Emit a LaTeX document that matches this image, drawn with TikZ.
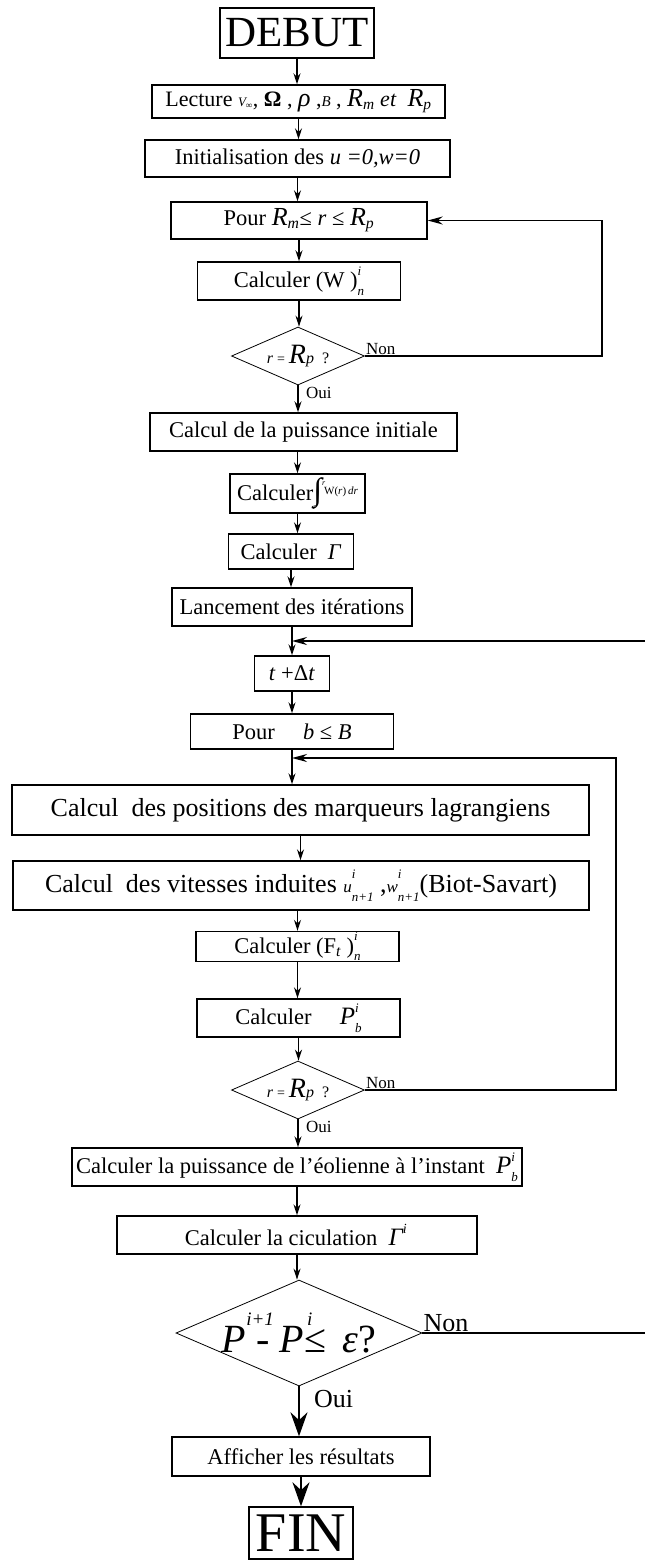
\documentclass[tikz,border=0pt]{standalone}
\usepackage{fontspec}
\setmainfont{Liberation Serif}
\usetikzlibrary{shapes.geometric,arrows.meta}
\newcommand{\fs}[1]{\fontsize{#1}{#1}\selectfont}
\newcommand{\supsub}[2]{\rlap{\raisebox{0.55em}{\fs{13}\itshape #1}}\raisebox{-0.35em}{\fs{13}\itshape #2}}
\newcommand{\intrr}{{\fs{32}∫}\rlap{\raisebox{15pt}{\fs{8}\itshape r}}\rlap{\kern-9pt\raisebox{-9pt}{\fs{8}\itshape r}}\kern2pt\raisebox{6pt}{\fs{11}W(\textit{r})\,\textit{dr}}}
\tikzset{
  procbox/.style 2 args={
    rectangle, draw, line width=1.4pt,
    minimum width=#1, minimum height=#2,
    inner sep=0pt, align=center, font=\fs{22.5}
  },
  termbox/.style 2 args={
    rectangle, draw, line width=1.4pt,
    minimum width=#1, minimum height=#2,
    inner sep=0pt
  },
  testbox/.style 2 args={
    diamond, draw, line width=0.8pt,
    minimum width=#1, minimum height=#2,
    inner sep=0pt, aspect=2.3, font=\fs{16}
  },
  lbl/.style={inner sep=1pt, font=\fs{17}},
  myarr/.style={-{Stealth[length=11pt,width=7pt]}, line width=1.5pt},
  looparr/.style={-{Stealth[length=15pt,width=8pt]}, line width=1.5pt},
  bigarr/.style={-{Stealth[length=24pt,width=17pt]}, line width=1.8pt},
  myline/.style={line width=1.5pt},
}
\begin{document}
\begin{tikzpicture}[x=1pt,y=-1pt]
  \useasboundingbox (0,0) rectangle (645,1561);

  \node[termbox={154pt}{50pt}, font=\fs{43}] (debut) at (297,33) {DEBUT};
  \node[procbox={293pt}{33pt}, font=\fs{22}] (lect) at (298.5,101.5)
    {Lecture {\fs{13}\itshape V\textsubscript{∞}}, \textbf{Ω} , {\fs{26}\itshape ρ} ,{\fs{15}\itshape B} , {\fs{26}\itshape R}\textsubscript{\itshape m} \textit{et} \ {\fs{26}\itshape R}\textsubscript{\itshape p}};
  \node[procbox={305pt}{37pt}] (init) at (297.5,158.5) {Initialisation des \textit{u =0,w=0}};
  \node[procbox={256pt}{37pt}] (pour1) at (299,220.5)
    {Pour {\fs{26}\itshape R}\textsubscript{\itshape m}≤ \textit{r} ≤ {\fs{26}\itshape R}\textsubscript{\itshape p}};
  \node[procbox={203pt}{38pt}] (calw) at (299,281) {Calculer (W )\supsub{i}{n}};
  \node[testbox={133pt}{58pt}] (test1) at (298,356)
    {\textit{r} {\fs{14}=} {\fs{28}\itshape R}{\fs{16}\itshape p} \ ?};

  \node[procbox={307pt}{38pt}] (pinit) at (303.5,432) {Calcul de la puissance initiale};
  \node[procbox={135pt}{39pt}] (integ) at (297.5,493.5) {Calculer\intrr};
  \node[procbox={125pt}{35pt}] (gam) at (291,551.5) {Calculer \ \textit{Γ}};
  \node[procbox={240pt}{38pt}] (lanc) at (292,607) {Lancement des itérations};
  \node[procbox={75pt}{35pt}] (tdt) at (292,673.5) {\textit{t} +Δ\textit{t}};
  \node[procbox={203pt}{35pt}] (pourb) at (292,731.5) {Pour \quad \textit{b} ≤ \textit{B}};

  \node[procbox={577pt}{50pt}, font=\fs{26}] (posi) at (300.5,810)
    {Calcul \ des positions des marqueurs lagrangiens};
  \node[procbox={576pt}{49pt}, font=\fs{26}] (vit) at (301,885.5)
    {Calcul \ des vitesses induites {\fs{17}\itshape u}\supsub{i}{n+1} ,{\fs{17}\itshape w}\supsub{i}{n+1}(Biot-Savart)};
  \node[procbox={203pt}{30pt}] (calf) at (297.5,946.5) {Calculer (F\textsubscript{\itshape t} )\supsub{i}{n}};
  \node[procbox={203pt}{38pt}] (calp) at (298.5,1018) {Calculer \quad {\fs{25}\itshape P}\supsub{i}{b}};
  \node[testbox={133pt}{58pt}] (test2) at (298,1090)
    {\textit{r} {\fs{14}=} {\fs{28}\itshape R}{\fs{16}\itshape p} \ ?};

  \node[procbox={450pt}{38pt}] (eol) at (297,1167)
    {Calculer la puissance de l’éolienne à l’instant \ {\fs{25}\itshape P}\supsub{i}{b}};
  \node[procbox={360pt}{38pt}] (circ) at (297,1235)
    {Calculer la ciculation \ {\fs{25}\itshape Γ}\rlap{\raisebox{0.55em}{\fs{14}\itshape i}}\phantom{i}};
  \node[testbox={246pt}{106pt},
        label={[font=\fs{40}]center:{\textit{P}\rlap{\raisebox{27pt}{\fs{19}\itshape i+1}}\ - \textit{P}\rlap{\kern3pt\raisebox{27pt}{\fs{19}\itshape i}}≤ \,\textit{ε}?}}]
        (test3) at (299,1333) {};
  \node[procbox={258pt}{39pt}] (aff) at (301,1456.5) {Afficher les résultats};
  \node[termbox={104pt}{52pt}, font=\fs{56}] (fin) at (301,1533) {FIN};

  \node[lbl, anchor=south west] (non1) at (test1.east) {Non};
  \node[lbl, anchor=north west, xshift=7pt, yshift=-1pt] (oui1) at (test1.south) {Oui};
  \node[lbl, anchor=south west] (non2) at (test2.east) {Non};
  \node[lbl, anchor=north west, xshift=7pt, yshift=-1pt] (oui2) at (test2.south) {Oui};
  \node[lbl, anchor=south west, font=\fs{26}] (non3) at (test3.east) {Non};
  \node[lbl, anchor=north west, font=\fs{26}, xshift=14pt, yshift=-3pt] (oui3) at (test3.south) {Oui};

  % loop points
  \coordinate (lp1) at (602,0);
  \coordinate (lp2) at (616,0);
  \coordinate (re)  at (645,641);
  \coordinate (j1)  at (lanc.south |- re);
  \coordinate (j2)  at (pourb.south |- 0,758);

  \draw[myarr] (debut.south) -- (debut.south |- lect.north);
  \draw[myarr] (lect.south)  -- (lect.south |- init.north);
  \draw[myarr] (init.south)  -- (init.south |- pour1.north);
  \draw[myarr] (pour1.south) -- (pour1.south |- calw.north);
  \draw[myarr] (calw.south)  -- (calw.south |- test1.north);
  \draw[myarr] (test1.south) -- (test1.south |- pinit.north);
  \draw[myarr] (pinit.south -| integ.north) -- (integ.north);
  \draw[myarr] (integ.south) -- (integ.south |- gam.north);
  \draw[myarr] (gam.south)   -- (gam.south |- lanc.north);
  \draw[myarr] (lanc.south)  -- (lanc.south |- tdt.north);
  \draw[myarr] (tdt.south)   -- (tdt.south |- pourb.north);
  \draw[myarr] (pourb.south) -- (pourb.south |- posi.north);
  \draw[myarr] (posi.south)  -- (posi.south |- vit.north);
  \draw[myarr] (vit.south -| calf.north) -- (calf.north);
  \draw[myarr] (calf.south)  -- (calf.south |- calp.north);
  \draw[myarr] (calp.south)  -- (calp.south |- test2.north);
  \draw[myarr] (test2.south) -- (test2.south |- eol.north);
  \draw[myarr] (eol.south)   -- (eol.south |- circ.north);
  \draw[myarr] (circ.south)  -- (circ.south |- test3.north);
  \draw[bigarr] (test3.south) -- (test3.south |- aff.north);
  \draw[bigarr] (aff.south)  -- (aff.south |- fin.north);

  \draw[looparr] (test1.east) -| (lp1 |- pour1.east) -- (pour1.east);
  \draw[looparr] (re) -- (j1);
  \draw[looparr] (test2.east) -| (lp2 |- j2) -- (j2);
  \draw[myline]  (test3.east) -- (re |- test3.east);
\end{tikzpicture}
\end{document}
